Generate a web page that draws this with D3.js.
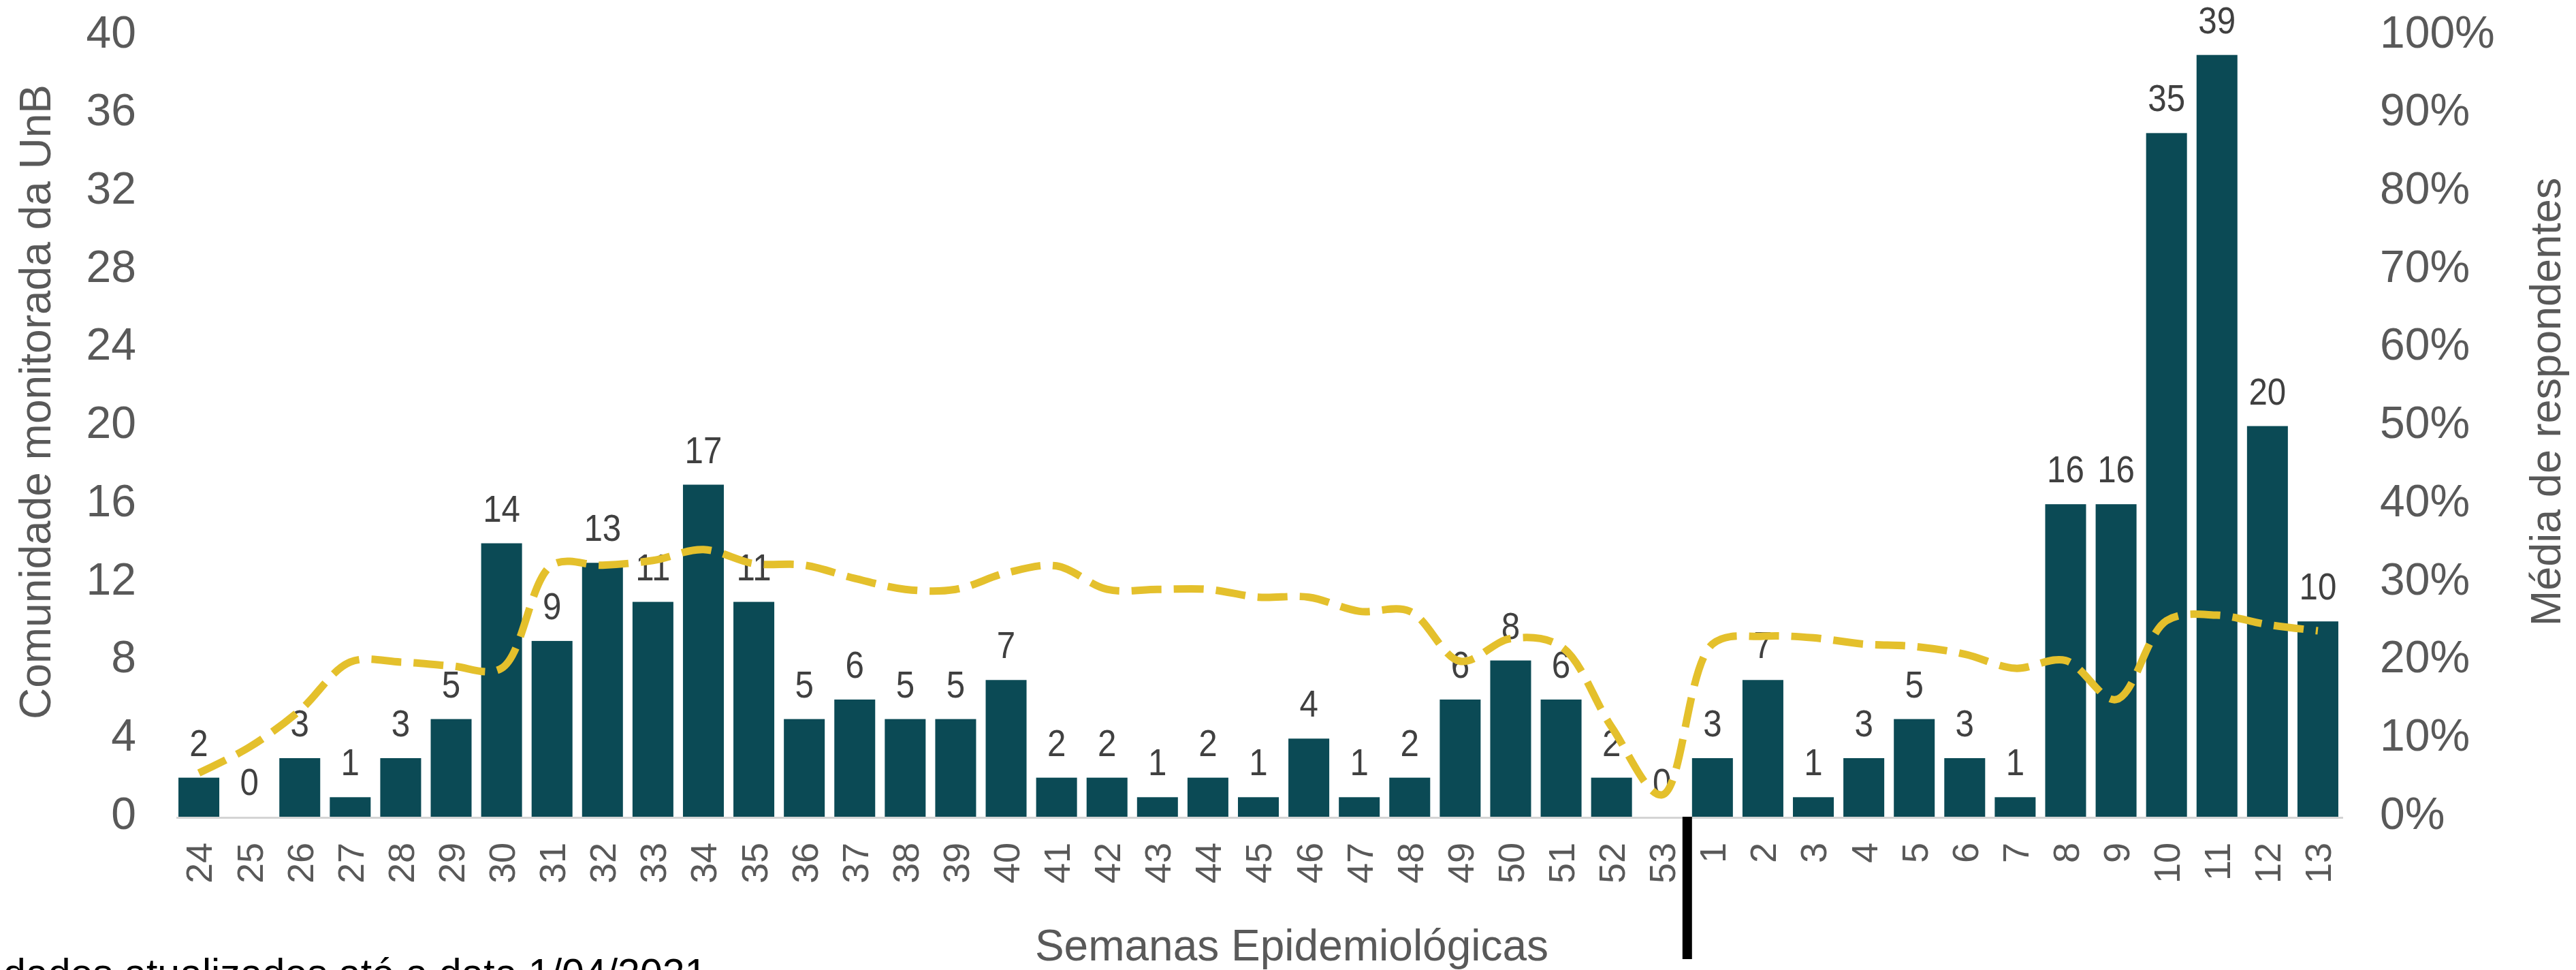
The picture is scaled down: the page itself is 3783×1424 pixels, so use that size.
<!DOCTYPE html>
<html>
<head>
<meta charset="utf-8">
<script src="https://cdn.jsdelivr.net/npm/d3@7"></script>
<style>
  body { margin: 0; background: #fff; }
  svg { display: block; }
</style>
</head>
<body>
<script>
// semanas epidemiológicas (2020: 24..53, 2021: 1..13)
const weeks = ['24', '25', '26', '27', '28', '29', '30', '31', '32', '33', '34', '35', '36', '37', '38', '39', '40',
    '41', '42', '43', '44', '45', '46', '47', '48', '49', '50', '51', '52', '53',
    '1', '2', '3', '4', '5', '6', '7', '8', '9', '10', '11', '12', '13'];

// comunidade monitorada (barras)
const cases = [2, 0, 3, 1, 3, 5, 14, 9, 13, 11, 17, 11, 5, 6, 5, 5, 7,
    2, 2, 1, 2, 1, 4, 1, 2, 6, 8, 6, 2, 0,
    3, 7, 1, 3, 5, 3, 1, 16, 16, 35, 39, 20, 10];

// média de respondentes (linha tracejada)
const respondents = [0.056, 0.089, 0.136, 0.198, 0.198, 0.193, 0.19, 0.322, 0.322, 0.328, 0.342, 0.324, 0.322, 0.305, 0.291, 0.291, 0.312,
    0.321, 0.291, 0.291, 0.291, 0.281, 0.281, 0.263, 0.263, 0.199, 0.228, 0.218, 0.115, 0.028,
    0.221, 0.231, 0.229, 0.221, 0.218, 0.208, 0.19, 0.2, 0.15, 0.251, 0.258, 0.246, 0.238];

const leftTicks = [0, 4, 8, 12, 16, 20, 24, 28, 32, 36, 40];
const rightTicks = [0, 0.1, 0.2, 0.3, 0.4, 0.5, 0.6, 0.7, 0.8, 0.9, 1];

const width = 3783;
const height = 1424;
const margin = { top: 52, right: 342, bottom: 225, left: 255 };

const barColor = '#0b4a55';
const lineColor = '#e4c02c';
const tickColor = '#595959';
const font = "'Liberation Sans', Arial, sans-serif";

const svg = d3.select('body')
    .append('svg')
    .attr('width', width)
    .attr('height', height);

const x = d3.scaleBand()
    .domain(weeks)
    .range([margin.left, width - margin.right])
    .paddingInner(0.19)
    .paddingOuter(0.095);

const y = d3.scaleLinear()
    .domain([0, 40])
    .range([height - margin.bottom, margin.top]);

const yRight = d3.scaleLinear()
    .domain([0, 1])
    .range(y.range());

const data = weeks.map((w, i) => ({ week: w, value: cases[i], pct: respondents[i] }));

// barras
svg.append('g')
    .selectAll('rect')
    .data(data)
    .join('rect')
    .attr('x', d => x(d.week))
    .attr('y', d => y(d.value))
    .attr('width', x.bandwidth())
    .attr('height', d => y(0) - y(d.value))
    .attr('fill', barColor);

// linha de base
svg.append('line')
    .attr('x1', margin.left + 4)
    .attr('x2', width - margin.right)
    .attr('y1', y(0) + 1.5)
    .attr('y2', y(0) + 1.5)
    .attr('stroke', '#d4d4d4')
    .attr('stroke-width', 3);

// rótulos de dados (um pouco condensados, como no original)
svg.append('g')
    .selectAll('text')
    .data(data)
    .join('text')
    .attr('transform', d => `translate(${x(d.week) + x.bandwidth() / 2},${y(d.value) - 32}) scale(0.88,1)`)
    .attr('text-anchor', 'middle')
    .attr('font-family', font)
    .attr('font-size', 56)
    .attr('fill', '#404040')
    .text(d => d.value);

// eixo esquerdo
const leftAxis = svg.append('g')
    .attr('transform', `translate(${margin.left},0)`)
    .call(d3.axisLeft(y).tickValues(leftTicks).tickSize(0).tickPadding(55));

// eixo direito
const rightAxis = svg.append('g')
    .attr('transform', `translate(${width - margin.right},0)`)
    .call(d3.axisRight(yRight).tickValues(rightTicks).tickFormat(d3.format('.0%')).tickSize(0).tickPadding(54));

// eixo x
const xAxis = svg.append('g')
    .attr('transform', `translate(0,${y(0)})`)
    .call(d3.axisBottom(x).tickSize(0));

xAxis.selectAll('text')
    .attr('transform', 'rotate(-90)')
    .attr('text-anchor', 'end')
    .attr('x', -38)
    .attr('y', 0)
    .attr('dy', '0.36em')
    .attr('font-size', 54);

[leftAxis, rightAxis].forEach(g => g.selectAll('text').attr('font-size', 66).attr('dy', '0.26em'));

[leftAxis, rightAxis, xAxis].forEach(g => {
    g.select('.domain').remove();
    g.selectAll('text')
        .attr('font-family', font)
        .attr('fill', tickColor);
});

// linha tracejada
const line = d3.line()
    .x(d => x(d.week) + x.bandwidth() / 2)
    .y(d => yRight(d.pct))
    .curve(d3.curveCatmullRom.alpha(0.5));

svg.append('path')
    .datum(data)
    .attr('d', line)
    .attr('fill', 'none')
    .attr('stroke', lineColor)
    .attr('stroke-width', 11)
    .attr('stroke-dasharray', '44 18');

// separador entre anos
const gap = x.step() - x.bandwidth();
svg.append('rect')
    .attr('x', x('1') - gap / 2 - 7)
    .attr('y', y(0))
    .attr('width', 14)
    .attr('height', 209)
    .attr('fill', '#000');

// títulos
svg.append('text')
    .attr('transform', 'translate(52,590) rotate(-90)')
    .attr('text-anchor', 'middle')
    .attr('dominant-baseline', 'central')
    .attr('font-family', font)
    .attr('font-size', 64)
    .attr('fill', tickColor)
    .text('Comunidade monitorada da UnB');

svg.append('text')
    .attr('transform', 'translate(3738,590) rotate(-90)')
    .attr('text-anchor', 'middle')
    .attr('dominant-baseline', 'central')
    .attr('font-family', font)
    .attr('font-size', 63)
    .attr('fill', tickColor)
    .text('Média de respondentes');

svg.append('text')
    .attr('x', 1897)
    .attr('y', 1410)
    .attr('text-anchor', 'middle')
    .attr('font-family', font)
    .attr('font-size', 64)
    .attr('fill', tickColor)
    .text('Semanas Epidemiológicas');

svg.append('text')
    .attr('x', 5)
    .attr('y', 1449)
    .attr('font-family', font)
    .attr('font-size', 59)
    .attr('fill', '#000')
    .text('dados atualizados até a data 1/04/2021');
</script>
</body>
</html>
